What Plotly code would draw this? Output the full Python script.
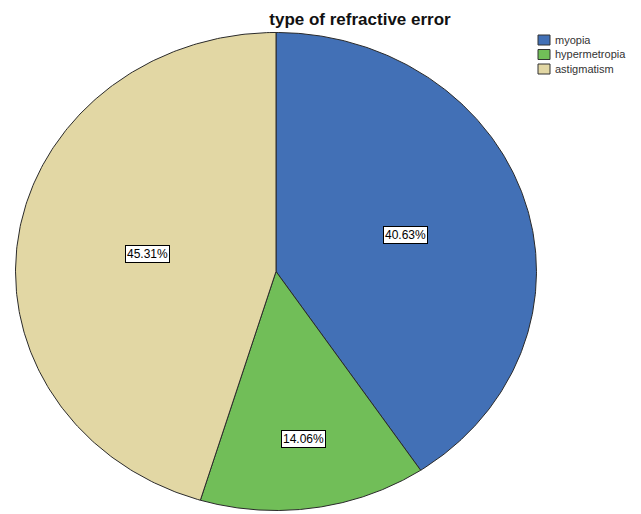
import numpy as np
import plotly.graph_objects as go

# Share of each refractive-error type (%)
categories = ["myopia", "hypermetropia", "astigmatism"]
shares = [40.63, 14.06, 45.31]
label_texts = ["40.63%", "14.06%", "45.31%"]

colors = ["#4270B6", "#71BE58", "#E2D7A4"]
label_radius = [0.52, 0.71, 0.50]

W, H = 641, 514
# pixel box of the (slightly elliptical) pie
px_left, px_right, px_top, px_bottom = 15, 537, 32, 511

FONT = "Liberation Sans, Arial"

fig = go.Figure()

total = sum(shares)
start = 0.0
for name, val, col, lr, txt in zip(categories, shares, colors, label_radius, label_texts):
    sweep = 360.0 * val / total
    th = np.radians(np.linspace(start, start + sweep, 240))
    xs = np.concatenate([[0.0], np.sin(th), [0.0]])
    ys = np.concatenate([[0.0], np.cos(th), [0.0]])
    fig.add_trace(go.Scatter(
        x=xs, y=ys, mode="lines", fill="toself", fillcolor=col,
        line=dict(color="#2a2a2a", width=1), name=name,
        hoverinfo="name", showlegend=False,
    ))
    mid = np.radians(start + sweep / 2)
    fig.add_annotation(
        x=lr * np.sin(mid), y=lr * np.cos(mid), text=txt, showarrow=False,
        font=dict(family=FONT, size=12, color="#000000"),
        bgcolor="#ffffff", bordercolor="#000000", borderwidth=1, borderpad=1,
    )
    start += sweep

# Legend: square swatches with labels, stacked at the top right
leg_x0, leg_y0, row_h, box_w, box_h = 538, 35, 14.5, 12, 10
for i, (name, col) in enumerate(zip(categories, colors)):
    top = leg_y0 + i * row_h
    fig.add_shape(
        type="rect", xref="paper", yref="paper",
        x0=leg_x0 / W, x1=(leg_x0 + box_w) / W,
        y0=1 - (top + box_h) / H, y1=1 - top / H,
        fillcolor=col, line=dict(color="#333333", width=1),
    )
    fig.add_annotation(
        xref="paper", yref="paper", x=(leg_x0 + box_w + 3) / W,
        y=1 - (top + box_h / 2) / H, xanchor="left", yanchor="middle",
        text=name, showarrow=False,
        font=dict(family=FONT, size=11, color="#333333"),
    )

fig.update_layout(
    width=W, height=H,
    margin=dict(l=0, r=0, t=0, b=0),
    paper_bgcolor="#ffffff", plot_bgcolor="#ffffff",
    xaxis=dict(visible=False, range=[-1.002, 1.002], fixedrange=True,
               domain=[px_left / W, px_right / W]),
    yaxis=dict(visible=False, range=[-1.002, 1.002], fixedrange=True,
               domain=[(H - px_bottom) / H, (H - px_top) / H]),
    title=dict(text="<b>type of refractive error</b>", x=360 / W, xanchor="center",
               y=1 - 19 / H, yanchor="middle",
               font=dict(family=FONT, size=17, color="#111111")),
    showlegend=False,
)

fig.write_html("out.html")
